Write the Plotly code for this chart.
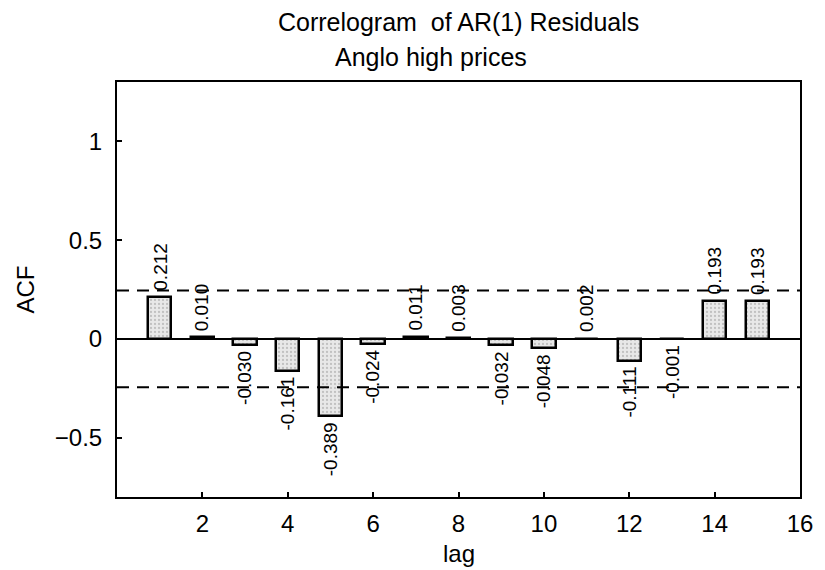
import plotly.graph_objects as go

# Residual autocorrelations of the AR(1) fit, lags 1..15
lags = list(range(1, 16))
acf_values = [0.212, 0.010, -0.030, -0.161, -0.389, -0.024, 0.011, 0.003,
              -0.032, -0.048, 0.002, -0.111, -0.001, 0.193, 0.193]
acf_labels = [f"{v:.3f}" for v in acf_values]
conf_bound = 0.245          # approximate 95% band, +/- 2/sqrt(n)

x_ticks = [2, 4, 6, 8, 10, 12, 14, 16]
y_ticks = [-0.5, 0, 0.5, 1]
y_tick_labels = ["\u22120.5", "0", "0.5", "1"]

FONT = "Liberation Sans, Arial, sans-serif"

fig = go.Figure()

# confidence band lines
for b in (conf_bound, -conf_bound):
    fig.add_trace(go.Scatter(
        x=[0, 16], y=[b, b], mode="lines",
        line=dict(color="black", width=2, dash="12px,8px"),
        hoverinfo="skip", showlegend=False, cliponaxis=False,
    ))

fig.add_trace(go.Bar(
    x=lags, y=acf_values, width=0.55,
    marker=dict(
        color="#e4e4e4",
        line=dict(color="black", width=2.5),
        pattern=dict(shape=".", fgcolor="#9a9a9a", bgcolor="#e8e8e8",
                     size=4, solidity=0.25),
    ),
    cliponaxis=False, showlegend=False,
))

# value labels, rotated, just beyond the end of each bar
value_annotations = [
    dict(text=lab, x=lag, y=val, xref="x", yref="y",
         yanchor="bottom" if val >= 0 else "top",
         yshift=4 if val >= 0 else -4,
         xanchor="center", textangle=-90, showarrow=False,
         font=dict(size=19, family=FONT, color="black"))
    for lag, val, lab in zip(lags, acf_values, acf_labels)
]

fig.update_layout(
    width=825, height=570,
    margin=dict(l=117, r=17, t=82, b=73),
    paper_bgcolor="white", plot_bgcolor="white",
    font=dict(family=FONT, color="black"),
    bargap=0,
    xaxis=dict(
        range=[0, 16], tickvals=x_ticks, ticks="inside", ticklen=5,
        tickwidth=2, tickcolor="black", showgrid=False, zeroline=False,
        showline=True, linecolor="black", linewidth=2, mirror=True,
        tickfont=dict(size=24, family=FONT), ticklabelstandoff=4,
    ),
    yaxis=dict(
        range=[-0.8, 1.3], tickvals=y_ticks, ticktext=y_tick_labels,
        ticks="inside", ticklen=5, tickwidth=2, tickcolor="black",
        showgrid=False, zeroline=True, zerolinecolor="black",
        zerolinewidth=2, showline=True, linecolor="black", linewidth=2,
        mirror=True, tickfont=dict(size=24, family=FONT),
        ticklabelstandoff=8,
    ),
    annotations=value_annotations + [
        dict(text="Correlogram  of AR(1) Residuals", xref="paper", yref="paper",
             x=0.5007, y=1.1446, xanchor="center", yanchor="middle",
             showarrow=False, font=dict(size=25, family=FONT)),
        dict(text="Anglo high prices", xref="paper", yref="paper",
             x=0.46, y=1.06, xanchor="center", yanchor="middle",
             showarrow=False, font=dict(size=25, family=FONT)),
        dict(text="ACF", xref="paper", yref="paper", x=-0.1346, y=0.5,
             xanchor="center", yanchor="middle", textangle=-90,
             showarrow=False, font=dict(size=24, family=FONT)),
        dict(text="lag", xref="paper", yref="paper", x=0.5, y=-0.135,
             xanchor="center", yanchor="middle",
             showarrow=False, font=dict(size=24, family=FONT)),
    ],
)

fig.write_html("out.html")
